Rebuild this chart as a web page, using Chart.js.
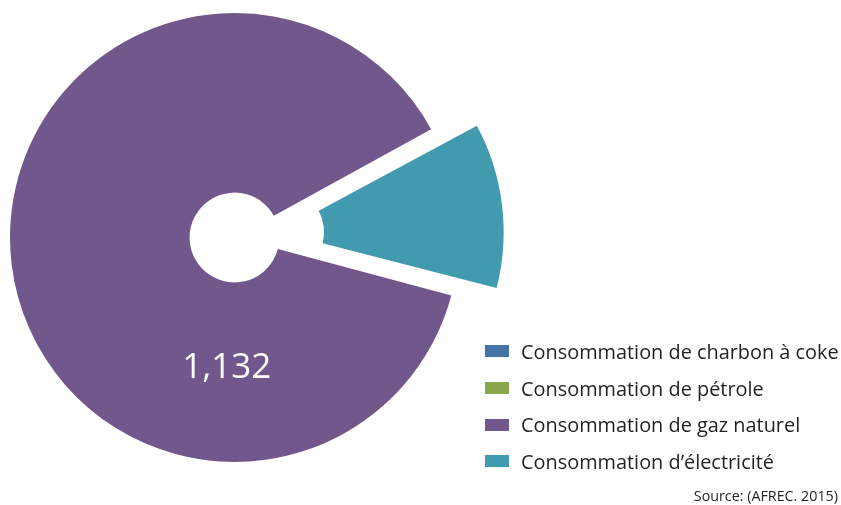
<!DOCTYPE html>
<html lang="fr">
<head>
<meta charset="utf-8">
<script src="https://cdn.jsdelivr.net/npm/chart.js@4/dist/chart.umd.min.js"></script>
<style>
    html, body { margin: 0; padding: 0; background: #fff; }
    #wrap { position: relative; width: 841px; height: 505px; overflow: hidden; font-family: 'Open Sans', sans-serif; }
    #pie { position: absolute; left: 0; top: 0; }
    #legend { position: absolute; left: 485px; top: 333px; margin: 0; padding: 0; list-style: none; }
    #legend li { display: flex; align-items: center; height: 36.7px; font-size: 19.9px; color: #231f20; white-space: nowrap; }
    #legend .box { display: inline-block; width: 24px; height: 12px; margin-right: 12px; }
    #source { position: absolute; right: 3px; top: 486px; font-size: 14.3px; color: #231f20; }
</style>
</head>
<body>
<div id="wrap">
    <canvas id="pie" width="841" height="505"></canvas>
    <ul id="legend"></ul>
    <div id="source">Source: (AFREC. 2015)</div>
</div>
<script>
const categories = [
    'Consommation de charbon à coke',
    'Consommation de pétrole',
    'Consommation de gaz naturel',
    'Consommation d\u2019électricité'
];
const values = [0, 0, 1132, 157];
const colors = ['#4673a8', '#89a64d', '#72578c', '#429aaf'];
// Chart.js moves an arc by a quarter of its offset, so 180 gives a 45px pull-out
const offsets = [0, 0, 0, 180];

// label shown for each slice (only gas is annotated)
const shownLabels = [null, null, '1,132', null];

// the arc element also grows its radii when pulled out; undo that so the
// exploded slice keeps the same ring size as the rest
const keepRadius = {
    id: 'keepRadius',
    afterDatasetsUpdate(chart) {
        chart.getDatasetMeta(0).data.forEach((arc, i) => {
            const off = offsets[i] / 4;
            if (!off) return;
            const fix = 1 - Math.sin(Math.min(Math.PI, arc.circumference || 0));
            arc.outerRadius -= off * fix;
            arc.innerRadius -= off * fix;
        });
    }
};

const sliceLabels = {
    id: 'sliceLabels',
    afterDatasetsDraw(chart) {
        const ctx = chart.ctx;
        const meta = chart.getDatasetMeta(0);
        meta.data.forEach((arc, i) => {
            if (!shownLabels[i]) return;
            const r = arc.outerRadius * 0.583;
            const a = Math.PI * 93.4 / 180;
            ctx.save();
            ctx.fillStyle = '#ffffff';
            ctx.font = '35px "Open Sans", sans-serif';
            ctx.textAlign = 'center';
            ctx.textBaseline = 'middle';
            ctx.fillText(shownLabels[i], arc.x + Math.cos(a) * r, arc.y + Math.sin(a) * r);
            ctx.restore();
        });
    }
};

new Chart(document.getElementById('pie').getContext('2d'), {
    type: 'doughnut',
    data: {
        labels: categories,
        datasets: [{
            data: values,
            backgroundColor: colors,
            offset: offsets,
            borderWidth: 0
        }]
    },
    options: {
        responsive: false,
        animation: false,
        rotation: 105,
        cutout: '20%',
        radius: 224.5,
        layout: { padding: { left: 0, top: 0, right: 372, bottom: 30 } },
        plugins: {
            legend: { display: false },
            tooltip: { enabled: false }
        }
    },
    plugins: [keepRadius, sliceLabels]
});

document.getElementById('legend').innerHTML = categories.map((c, i) =>
    `<li><span class="box" style="background:${colors[i]}"></span>${c}</li>`
).join('');
</script>
</body>
</html>
